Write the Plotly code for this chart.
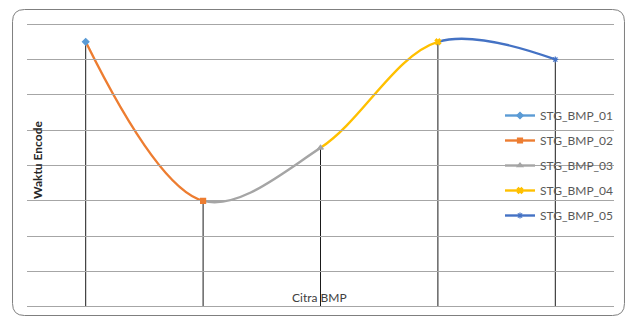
import plotly.graph_objects as go

# ---- data ----
categories = ["STG_BMP_01", "STG_BMP_02", "STG_BMP_03", "STG_BMP_04", "STG_BMP_05"]
waktu = [7.5, 3.0, 4.5, 7.5, 7.0]
colors = ["#5B9BD5", "#ED7D31", "#A5A5A5", "#FFC000", "#4472C4"]
symbols = ["diamond", "square", "triangle-up", "x", "asterisk-open"]
y_ticks = [0, 1, 2, 3, 4, 5, 6, 7, 8]

W, H = 629, 320
L, R, T, B = 27, 14, 22, 11
pw, ph = W - L - R, H - T - B
n = len(categories)
xs = list(range(n))
pad = 0.06  # small range padding so edge gridlines are drawn

def px2paper_x(px):
    return (px - L) / pw

def px2paper_y(py):
    return (H - B - py) / ph

fig = go.Figure()

# drop lines (main subplot)
for i in range(n):
    fig.add_trace(go.Scatter(
        x=[xs[i]], y=[waktu[i]], mode="markers",
        marker=dict(size=1, color="rgba(0,0,0,0)"),
        error_y=dict(type="data", symmetric=False, array=[0], arrayminus=[waktu[i]],
                     width=0, thickness=1, color="#1a1a1a"),
        showlegend=False, hoverinfo="skip"))

# smoothed curve segments, each clipped to its own sub-domain
for i in range(n - 1):
    ax = f"x{i + 2}"
    fig.add_trace(go.Scatter(
        x=xs, y=waktu, mode="lines",
        line=dict(color=colors[i + 1], width=2.4, shape="spline"),
        xaxis=ax, yaxis="y", showlegend=False, hoverinfo="skip"))
    fig.update_layout(**{f"xaxis{i + 2}": dict(
        domain=[(i + 0.5) / n, (i + 1.5) / n], range=[i, i + 1],
        anchor="y", visible=False, showgrid=False, zeroline=False)})

# markers + legend entries (top subplot)
for i in range(n):
    fig.add_trace(go.Scatter(
        x=[xs[i]], y=[waktu[i]], mode="lines+markers", name=categories[i],
        line=dict(color=colors[i], width=2.4),
        marker=dict(symbol=symbols[i], size=5, color=colors[i],
                    line=dict(color=colors[i], width=1.2)),
        xaxis="x6", yaxis="y", legendgroup=categories[i], cliponaxis=False))

fig.update_layout(
    width=W, height=H,
    margin=dict(l=L, r=R, t=T, b=B),
    paper_bgcolor="white", plot_bgcolor="rgba(0,0,0,0)",
    xaxis=dict(range=[-0.5, n - 0.5], domain=[0, 1], visible=False, showgrid=False, zeroline=False),
    xaxis6=dict(range=[-0.5, n - 0.5], domain=[0, 1], anchor="y", visible=False,
                showgrid=False, zeroline=False),
    yaxis=dict(range=[y_ticks[0] - pad, y_ticks[-1] + pad], tickvals=y_ticks,
               showticklabels=False, showgrid=True, gridcolor="#a6a6a6", gridwidth=1.3,
               zeroline=False, showline=False, ticks=""),
    legend=dict(x=px2paper_x(500), y=px2paper_y(101), xanchor="left", yanchor="top",
                bgcolor="rgba(0,0,0,0)", font=dict(family="Lato", size=12, color="#595959"),
                tracegroupgap=6, itemwidth=30),
    showlegend=True,
    font=dict(family="Lato"),
)

fig.add_annotation(text="<b>Waktu Encode</b>", textangle=-90, xref="paper", yref="paper",
                   x=px2paper_x(37), y=px2paper_y(160), xanchor="center", yanchor="middle",
                   showarrow=False, font=dict(family="Lato", size=12, color="#262626"))
fig.add_annotation(text="Citra BMP", xref="paper", yref="paper",
                   x=px2paper_x(320), y=px2paper_y(297), xanchor="center", yanchor="middle",
                   showarrow=False, font=dict(family="Lato", size=12, color="#404040"))

# rounded chart border
x0, y0, x1, y1, r = px2paper_x(12.5), px2paper_y(9.5), px2paper_x(625.5), px2paper_y(315.5), 12
rx, ry = r / pw, r / ph
path = (f"M {x0 + rx},{y0} L {x1 - rx},{y0} Q {x1},{y0} {x1},{y0 - ry} "
        f"L {x1},{y1 + ry} Q {x1},{y1} {x1 - rx},{y1} L {x0 + rx},{y1} "
        f"Q {x0},{y1} {x0},{y1 + ry} L {x0},{y0 - ry} Q {x0},{y0} {x0 + rx},{y0} Z")
fig.add_shape(type="path", path=path, xref="paper", yref="paper",
              line=dict(color="#7f7f7f", width=1), layer="below")

fig.write_html("out.html")
